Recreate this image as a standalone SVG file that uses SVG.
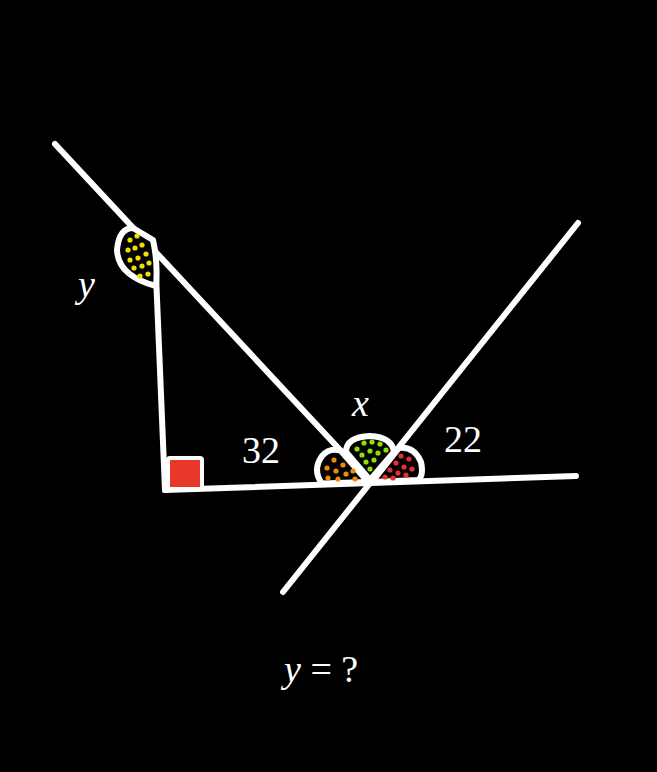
<svg xmlns="http://www.w3.org/2000/svg" width="657" height="772" viewBox="0 0 657 772">
<style>
.ln{stroke:#fff;stroke-width:6;stroke-linecap:round;fill:none}
.wd{stroke:#fff;stroke-width:6;stroke-linejoin:round;fill:#000}
.t{font-family:"Liberation Serif",serif;fill:#fff;font-size:38px}
.i{font-style:italic}
circle{r:2.6px}
.yd circle{fill:#f0e000}.od circle{fill:#f08a00}.gd circle{fill:#8ee000}.rd circle{fill:#e8302a}
</style>
<rect width="657" height="772" fill="#000"/>
<g id="connectors">
<line class="ln" x1="55" y1="144" x2="370" y2="482"/>
<line class="ln" x1="155" y1="251" x2="165" y2="490"/>
<line class="ln" x1="165" y1="490" x2="576" y2="476"/>
<line class="ln" x1="283" y1="592" x2="578" y2="223"/>
</g>
<g id="angle-y">
<path class="wd" d="M153,240 Q158,262 156,286 Q118,276 117,250 Q119,228 133,228 Z"/>
<g class="yd"><circle cx="130" cy="240" r="2.6"/><circle cx="137" cy="236" r="2.6"/><circle cx="128" cy="250" r="2.6"/><circle cx="135" cy="248" r="2.6"/><circle cx="142" cy="245" r="2.6"/><circle cx="130" cy="260" r="2.6"/><circle cx="138" cy="258" r="2.6"/><circle cx="146" cy="254" r="2.6"/><circle cx="134" cy="268" r="2.6"/><circle cx="142" cy="266" r="2.6"/><circle cx="149" cy="263" r="2.6"/><circle cx="140" cy="276" r="2.6"/><circle cx="148" cy="274" r="2.6"/></g>
</g>
<g id="right-angle"><rect x="168" y="458" width="34" height="31" rx="2" fill="#e8382a" stroke="#fff" stroke-width="4"/></g>
<g id="angle-32">
<path class="wd" d="M368,482 L322,483.6 Q312,470 322,456 Q330,447 341,451 Z"/>
<g class="od"><circle cx="327" cy="468" r="2.6"/><circle cx="334" cy="460" r="2.6"/><circle cx="336" cy="471" r="2.6"/><circle cx="343" cy="465" r="2.6"/><circle cx="328" cy="478" r="2.6"/><circle cx="338" cy="479" r="2.6"/><circle cx="346" cy="474" r="2.6"/><circle cx="353" cy="471" r="2.6"/><circle cx="355" cy="479" r="2.6"/></g>
</g>
<g id="angle-x">
<path class="wd" d="M370,480 L346,452 Q346,437 370,436 Q392,437 394,452 Z"/>
<g class="gd"><circle cx="357" cy="449" r="2.6"/><circle cx="364" cy="443" r="2.6"/><circle cx="372" cy="442" r="2.6"/><circle cx="380" cy="444" r="2.6"/><circle cx="386" cy="450" r="2.6"/><circle cx="362" cy="455" r="2.6"/><circle cx="370" cy="451" r="2.6"/><circle cx="378" cy="453" r="2.6"/><circle cx="366" cy="462" r="2.6"/><circle cx="374" cy="460" r="2.6"/><circle cx="370" cy="469" r="2.6"/></g>
</g>
<g id="angle-22">
<path class="wd" d="M372,482 L399,448 Q414,446 421,462 Q424,476 418,480 Z"/>
<g class="rd"><circle cx="401" cy="456" r="2.6"/><circle cx="409" cy="459" r="2.6"/><circle cx="396" cy="463" r="2.6"/><circle cx="404" cy="467" r="2.6"/><circle cx="412" cy="469" r="2.6"/><circle cx="390" cy="470" r="2.6"/><circle cx="398" cy="473" r="2.6"/><circle cx="406" cy="475" r="2.6"/><circle cx="385" cy="477" r="2.6"/><circle cx="393" cy="478" r="2.6"/></g>
</g>
<g id="labels">
<text class="t i" x="78" y="297">y</text>
<text class="t" x="242" y="463">32</text>
<text class="t i" x="352" y="416">x</text>
<text class="t" x="444" y="452">22</text>
<text class="t" x="284" y="682"><tspan class="i">y</tspan> = ?</text>
</g>
</svg>
